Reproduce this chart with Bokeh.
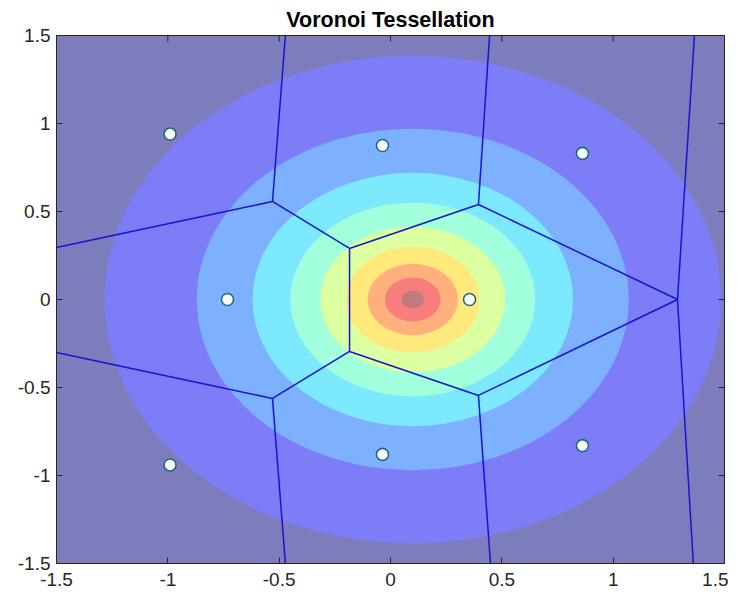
import numpy as np
from bokeh.plotting import figure
from bokeh.models import FixedTicker, Range1d, ColumnDataSource
from bokeh.embed import file_html
from bokeh.resources import INLINE

title_text = "Voronoi Tessellation"
ticks = [-1.5, -1, -0.5, 0, 0.5, 1, 1.5]
tick_labels = ["-1.5", "-1", "-0.5", "0", "0.5", "1", "1.5"]

# generator points
pts_x = [-0.99, -0.036, 0.862, -0.732, 0.355, -0.99, -0.036, 0.862]
pts_y = [0.94, 0.875, 0.83, 0.0, 0.0, -0.94, -0.88, -0.83]

# filled contour field: centre and band boundary radii (outermost first)
field_cx = 0.1
field_cy = 0.0
level_radii = [1.385, 0.97, 0.72, 0.55, 0.415, 0.30, 0.203, 0.125, 0.05]
band_fracs = [0, 1/9, 2/9, 3/9, 4/9, 5/9, 6/9, 7/9, 8/9, 1]  # colormap positions

# Voronoi vertices (incl. ray ends at the axes box) and edges
vor_x = [-0.530, -0.184, 0.395, 1.289, -0.184, -0.530, 0.395,
         -0.472, -1.5, 0.445, 1.365, 1.36, -1.5, -0.472, 0.449]
vor_y = [0.557, 0.290, 0.540, 0.0, -0.295, -0.562, -0.545,
         1.5, 0.295, 1.5, 1.5, -1.5, -0.301, -1.5, -1.5]
edges = [(0, 1), (1, 2), (2, 3), (1, 4), (4, 5), (4, 6), (6, 3),
         (0, 7), (0, 8), (2, 9), (3, 10), (3, 11), (5, 12), (5, 13), (6, 14)]

FACE_ALPHA = 0.51


def jet(t):
    r = np.clip(1.5 - abs(4 * t - 3), 0, 1)
    g = np.clip(1.5 - abs(4 * t - 2), 0, 1)
    b = np.clip(1.5 - abs(4 * t - 1), 0, 1)
    return r, g, b


def blended(t):
    rgb = jet(t)
    c = [int(round(255 * (1 - FACE_ALPHA) + 255 * v * FACE_ALPHA)) for v in rgb]
    return "#%02x%02x%02x" % tuple(c)


band_colors = [blended(t) for t in band_fracs]

p = figure(frame_width=668, frame_height=528,
           min_border_left=56, min_border_right=4,
           min_border_top=35, min_border_bottom=30,
           x_range=Range1d(-1.5, 1.5), y_range=Range1d(-1.5, 1.5),
           output_backend="svg", toolbar_location=None, title=title_text)
p.background_fill_color = band_colors[0]
p.border_fill_color = "white"
p.outline_line_color = "#262626"
p.outline_line_width = 1
p.xgrid.visible = False
p.ygrid.visible = False

p.title.align = "center"
p.title.text_font = "Liberation Sans"
p.title.text_font_style = "bold"
p.title.text_font_size = "21.5px"
p.title.text_color = "black"
p.title.standoff = 7
p.title.vertical_align = "bottom"

src = ColumnDataSource(dict(
    x=[field_cx] * len(level_radii),
    y=[field_cy] * len(level_radii),
    w=[2 * r for r in level_radii],
    h=[2 * r for r in level_radii],
    c=band_colors[1:],
))
p.ellipse(x="x", y="y", width="w", height="h", fill_color="c",
          line_color=None, source=src)

xs0 = [vor_x[a] for a, b in edges]
ys0 = [vor_y[a] for a, b in edges]
xs1 = [vor_x[b] for a, b in edges]
ys1 = [vor_y[b] for a, b in edges]
p.segment(x0=xs0, y0=ys0, x1=xs1, y1=ys1, line_color="#1414d2", line_width=1.5)

p.scatter(pts_x, pts_y, size=12, fill_color="white", line_color="#1d6a85",
          line_width=1.6)

overrides = {t: l for t, l in zip(ticks, tick_labels)}
for ax in (p.xaxis[0], p.yaxis[0]):
    ax.ticker = FixedTicker(ticks=ticks)
    ax.major_label_overrides = overrides
    ax.major_tick_in = 6
    ax.major_tick_out = 0
    ax.minor_tick_line_color = None
    ax.axis_line_color = None
    ax.major_tick_line_color = "#262626"
    ax.major_label_text_font = "Liberation Sans"
    ax.major_label_text_font_size = "19px"
    ax.major_label_text_color = "#262626"
p.xaxis[0].major_label_standoff = 9
p.yaxis[0].major_label_standoff = 6

# box ticks on the top and right edges (MATLAB "box on" style)
x_lo, x_hi = p.x_range.start, p.x_range.end
y_lo, y_hi = p.y_range.start, p.y_range.end
p.ray(x=ticks, y=[y_hi] * len(ticks), length=6, length_units="screen",
      angle=-np.pi / 2, line_color="#262626", line_width=1)
p.ray(x=[x_hi] * len(ticks), y=ticks, length=6, length_units="screen",
      angle=np.pi, line_color="#262626", line_width=1)

open("out.html", "w").write(file_html(p, INLINE))
